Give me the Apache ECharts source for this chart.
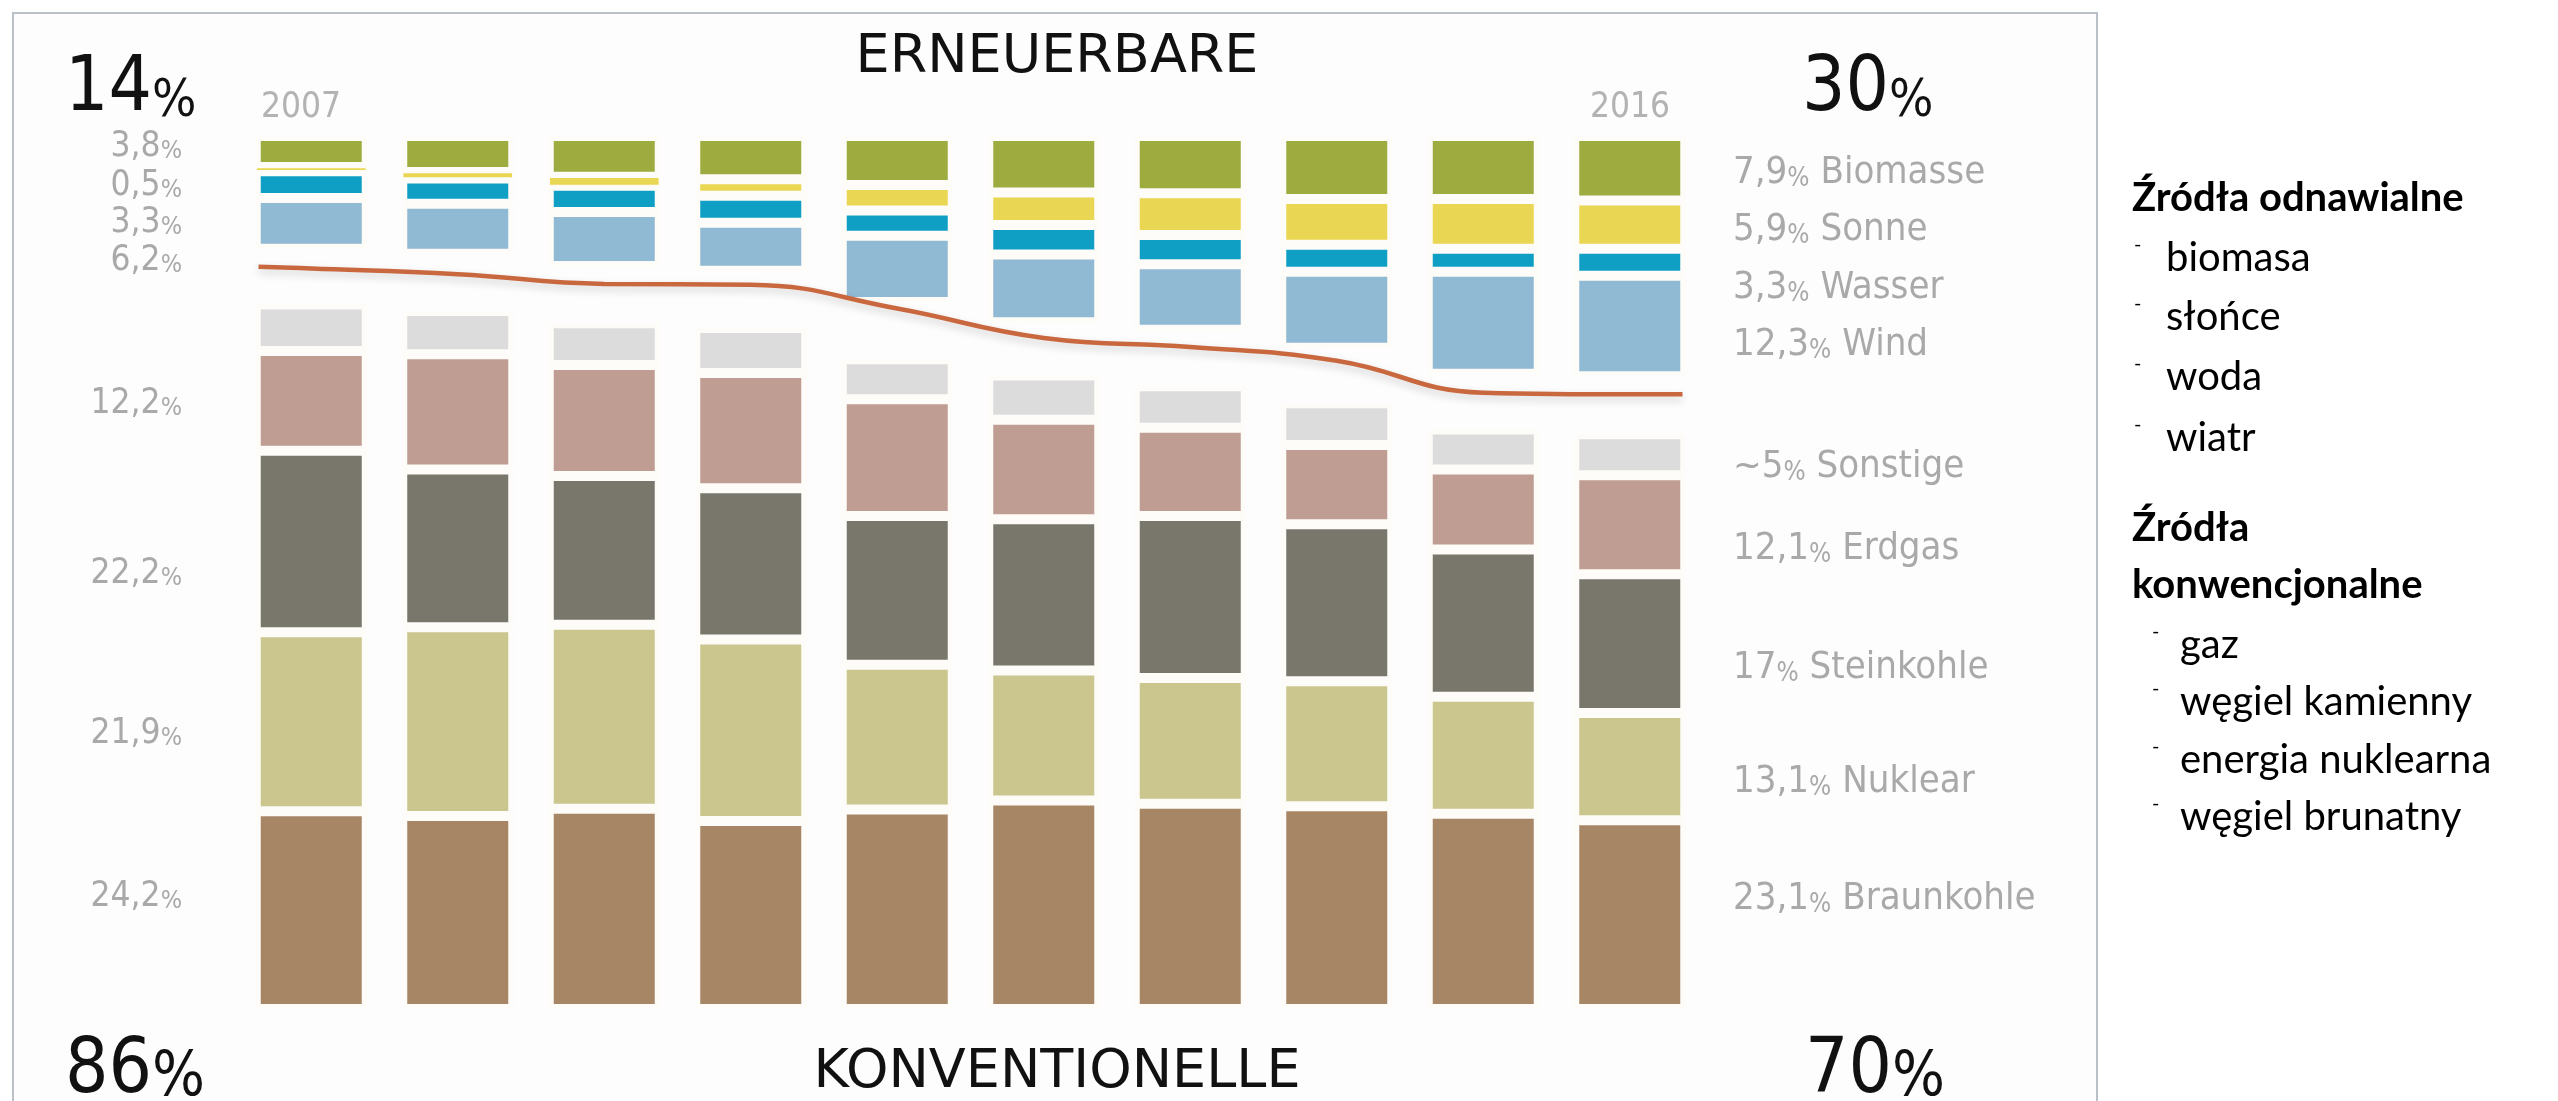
<!DOCTYPE html>
<html><head><meta charset="utf-8">
<script src="https://cdn.jsdelivr.net/npm/echarts@6/dist/echarts.min.js"></script>
<style>html,body{margin:0;padding:0;background:#fff}#c{width:2558px;height:1101px}</style>
</head><body><div id="c"></div>
<script>
// ---- data (percent of gross electricity generation) ----
const years = ['2007','2008','2009','2010','2011','2012','2013','2014','2015','2016'];
// renewables (hang from the top)
const biomasse   = [3.8, 4.4, 5.0, 5.3, 6.0, 6.9, 7.0, 7.7, 7.7, 7.9];
const sonne      = [0.5, 0.8, 1.1, 2.0, 3.1, 4.0, 5.1, 5.6, 6.1, 5.9];
const wasser     = [3.3, 3.1, 3.2, 3.3, 3.1, 3.6, 3.6, 3.3, 2.8, 3.3];
const wind       = [6.2, 6.1, 6.6, 5.9, 8.1, 8.3, 8.0, 9.3, 12.5, 12.3];
// conventional (stand on the bottom)
const braunkohle = [24.2, 23.6, 24.5, 23.0, 24.4, 25.5, 25.1, 24.8, 23.9, 23.1];
const nuklear    = [21.9, 23.1, 22.5, 22.2, 17.7, 15.9, 15.4, 15.3, 14.3, 13.1];
const steinkohle = [22.2, 19.3, 18.2, 18.5, 18.2, 18.5, 19.8, 19.2, 18.0, 17.0];
const erdgas     = [12.2, 14.1, 13.6, 14.1, 14.3, 12.2, 10.8, 9.7, 9.8, 12.1];
const sonstige   = [5.7, 5.3, 5.1, 5.5, 4.9, 5.4, 5.1, 5.1, 4.9, 5.0];
// dividing curve (depth from top, %), read at each year, plus its two ends
const curveX     = [-0.36, 0, 1, 2, 3, 4, 5, 6, 7, 8, 9, 9.36];
const curveY     = [16.0, 16.2, 16.9, 18.1, 18.2, 21.1, 24.7, 25.8, 27.5, 31.4, 31.6, 31.6];
// texts
const renShare   = ['14', '30'];
const convShare  = ['86', '70'];
const leftRen    = ['3,8', '0,5', '3,3', '6,2'];
const leftConv   = ['12,2', '22,2', '21,9', '24,2'];
const rightRen   = [['7,9', 'Biomasse'], ['5,9', 'Sonne'], ['3,3', 'Wasser'], ['12,3', 'Wind']];
const rightConv  = [['~5', 'Sonstige'], ['12,1', 'Erdgas'], ['17', 'Steinkohle'], ['13,1', 'Nuklear'], ['23,1', 'Braunkohle']];
const plRenTitle = 'Źródła odnawialne';
const plRen      = ['biomasa', 'słońce', 'woda', 'wiatr'];
const plConvTitle = ['Źródła', 'konwencjonalne'];
const plConv     = ['gaz', 'węgiel kamienny', 'energia nuklearna', 'węgiel brunatny'];

// ---- styling ----
const COND = "'DejaVu Sans Condensed','Liberation Sans Narrow',sans-serif";
const GRAY = '#a9a9a9';
const colors = {
  biomasse:'#9eab3e', sonne:'#e9d652', wasser:'#0f9fc4', wind:'#90b9d3',
  sonstige:'#dcdcdc', erdgas:'#bf9d93', steinkohle:'#79776b', nuklear:'#cbc58e', braunkohle:'#a68665'
};
const GAP = '#fdfcf8';

function txt(x, y, text, o) {
  return Object.assign({type:'text', x:x, y:y, z:10, style: Object.assign({
    text:text, fontFamily:COND, fontSize:30, fill:GRAY, align:'left', verticalAlign:'middle'}, o || {})});
}
function pctRich(num, big, small, color) {
  return {text:'{n|' + num + '}{p|%}', rich:{
    n:{fontSize:big, fontFamily:COND, fill:color, verticalAlign:'bottom'},
    p:{fontSize:small, fontFamily:COND, fill:color, verticalAlign:'bottom'}}};
}

const g = [];
g.push({type:'rect', z:-5, shape:{x:13, y:13, width:2084, height:1110},
  style:{fill:'#fdfdfd', stroke:'#b9c0c8', lineWidth:2}});
// headline shares
g.push({type:'text', x:65, y:128, z:10, style:Object.assign(pctRich(renShare[0], 76, 52, '#111'), {align:'left', verticalAlign:'bottom'})});
g.push({type:'text', x:1802, y:128, z:10, style:Object.assign(pctRich(renShare[1], 76, 52, '#111'), {align:'left', verticalAlign:'bottom'})});
g.push({type:'text', x:65, y:1110, z:10, style:Object.assign(pctRich(convShare[0], 76, 62, '#111'), {align:'left', verticalAlign:'bottom'})});
g.push({type:'text', x:1805, y:1110, z:10, style:Object.assign(pctRich(convShare[1], 76, 62, '#111'), {align:'left', verticalAlign:'bottom'})});
g.push(txt(1057, 58, 'ERNEUERBARE', {fontFamily:"'DejaVu Sans',sans-serif", fontSize:54, fill:'#111', align:'center'}));
g.push(txt(1057, 1073, 'KONVENTIONELLE', {fontFamily:"'DejaVu Sans',sans-serif", fontSize:54, fill:'#111', align:'center'}));
g.push(txt(261, 108, years[0], {fontSize:35, fill:'#b3b3b3'}));
g.push(txt(1670, 108, years[years.length-1], {fontSize:35, fill:'#b3b3b3', align:'right'}));
// left labels
const leftRenY = [148, 187, 224, 262];
leftRen.forEach((t,i) => g.push({type:'text', x:182, y:leftRenY[i]+16, z:10,
  style:Object.assign(pctRich(t, 35, 25, GRAY), {align:'right', verticalAlign:'bottom'})}));
const leftConvY = [405, 575, 735, 898];
leftConv.forEach((t,i) => g.push({type:'text', x:182, y:leftConvY[i]+16, z:10,
  style:Object.assign(pctRich(t, 35, 25, GRAY), {align:'right', verticalAlign:'bottom'})}));
// right labels
function rightLabel(pair, y) {
  return {type:'text', x:1733, y:y+17, z:10, style:{
    text:'{n|' + pair[0] + '}{p|%}{t| ' + pair[1] + '}', align:'left', verticalAlign:'bottom',
    rich:{n:{fontSize:38, fontFamily:COND, fill:GRAY, verticalAlign:'bottom'},
          p:{fontSize:26, fontFamily:COND, fill:GRAY, verticalAlign:'bottom'},
          t:{fontSize:38, fontFamily:COND, fill:GRAY, verticalAlign:'bottom'}}}};
}
const rightRenY = [175, 232, 290, 347];
rightRen.forEach((p,i) => g.push(rightLabel(p, rightRenY[i])));
const rightConvY = [469, 551, 670, 784, 901];
rightConv.forEach((p,i) => g.push(rightLabel(p, rightConvY[i])));
// Polish legend
const PL = "Lato,'Open Sans',sans-serif";
g.push(txt(2132, 198, plRenTitle, {fontFamily:PL, fontSize:40, fontWeight:'bold', fill:'#000'}));
const plRenY = [258, 317, 377, 438];
plRen.forEach((t,i) => {
  g.push(txt(2134, plRenY[i]-13, '-', {fontFamily:PL, fontSize:20, fill:'#000'}));
  g.push(txt(2166, plRenY[i], t, {fontFamily:PL, fontSize:40, fill:'#000'}));
});
g.push(txt(2132, 528, plConvTitle[0], {fontFamily:PL, fontSize:40, fontWeight:'bold', fill:'#000'}));
g.push(txt(2132, 585, plConvTitle[1], {fontFamily:PL, fontSize:40, fontWeight:'bold', fill:'#000'}));
const plConvY = [645, 702, 760, 817];
plConv.forEach((t,i) => {
  g.push(txt(2152, plConvY[i]-13, '-', {fontFamily:PL, fontSize:20, fill:'#000'}));
  g.push(txt(2180, plConvY[i], t, {fontFamily:PL, fontSize:40, fill:'#000'}));
});

function bar(name, data, stack, xi, yi) {
  return {name:name, type:'bar', stack:stack, xAxisIndex:xi, yAxisIndex:yi,
    // very thin segments get a thinner gap so they stay visible
    data:data.map(v => v < 1.5 ? {value:v, itemStyle:{borderWidth:1.2}} : v),
    barWidth:111, itemStyle:{color:colors[name], borderColor:GAP, borderWidth:5}};
}
const series = [
  bar('biomasse', biomasse, 'ren', 0, 1),
  bar('sonne', sonne, 'ren', 0, 1),
  bar('wasser', wasser, 'ren', 0, 1),
  bar('wind', wind, 'ren', 0, 1),
  bar('braunkohle', braunkohle, 'conv', 1, 0),
  bar('nuklear', nuklear, 'conv', 1, 0),
  bar('steinkohle', steinkohle, 'conv', 1, 0),
  bar('erdgas', erdgas, 'conv', 1, 0),
  bar('sonstige', sonstige, 'conv', 1, 0),
  {name:'curve', type:'line', xAxisIndex:2, yAxisIndex:1, smooth:0.45, symbol:'none',
   data: curveX.map((x,i) => [x, curveY[i]]),
   lineStyle:{color:'#c9683f', width:4.5, shadowColor:'rgba(0,0,0,0.18)', shadowBlur:8, shadowOffsetY:4}}
];

const chart = echarts.init(document.getElementById('c'));
chart.setOption({
  animation:false,
  backgroundColor:'#ffffff',
  graphic:g,
  grid:{left:238, top:136, width:1465, height:873},
  xAxis:[
    {type:'category', data:years, show:false},
    {type:'category', data:years, show:false},
    {type:'value', min:-0.5, max:9.5, show:false}
  ],
  yAxis:[
    {type:'value', min:0, max:106.8, show:false},
    {type:'value', min:0, max:106.8, inverse:true, show:false}
  ],
  series:series
});
</script></body></html>
